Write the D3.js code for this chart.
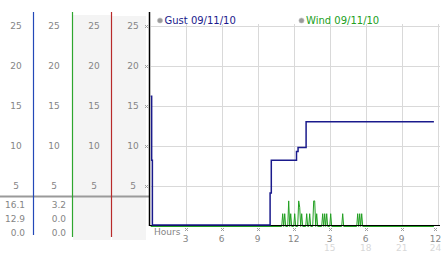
<!DOCTYPE html>
<html><head><meta charset="utf-8">
<script src="https://cdn.jsdelivr.net/npm/d3@7"></script>
<style>
html,body{margin:0;padding:0;background:#fff;}
svg{display:block;font-family:"DejaVu Sans",Verdana,sans-serif;}
</style></head>
<body><svg id="c" width="442" height="253"></svg>
<script>
// ---- data ----
const yTicks = [5, 10, 15, 20, 25];
const xTickHours = [3, 6, 9, 12, 15, 18, 21, 24];
const xTickLabels = ["3", "6", "9", "12", "3", "6", "9", "12"];
const xTickLabels2 = ["", "", "", "", "15", "18", "21", "24"];
const seriesNames = ["Gust 09/11/10", "Wind 09/11/10"];
const gustStats = ["16.1", "12.9", "0.0"];   // max, current, min
const windStats = ["3.2", "0.0", "0.0"];
// gust: [hour, value], step changes
const gust = [[0,16.1],[0.08,8.1],[0.14,0],[9.95,4.0],[10.05,8.1],[12.15,9.2],[12.28,9.7],[12.95,12.9],[23.6,12.9]];
// wind: [hour, value] samples
const wind = [[0,0],[10.917,0],[11.0,1.6],[11.083,0],[11.167,1.6],[11.25,0],[11.417,0],[11.5,3.2],[11.583,0],
 [11.667,1.6],[11.75,0],[11.917,0],[12.0,1.6],[12.083,0],[12.25,0],[12.333,3.2],[12.417,2.4],[12.5,0],
 [12.583,1.6],[12.667,0],[12.917,0],[13.0,1.6],[13.083,0],[13.167,0],[13.25,1.6],[13.333,0],[13.5,0],
 [13.583,3.2],[13.667,3.2],[13.75,0],[13.833,1.6],[13.917,0],[14.25,0],[14.333,1.6],[14.417,0],[14.5,1.6],
 [14.583,0],[14.667,1.6],[14.75,0],[14.917,0],[15.0,1.6],[15.083,0],[15.917,0],[16.0,1.6],[16.083,0],
 [17.167,0],[17.25,1.6],[17.333,0],[17.417,1.6],[17.5,0],[17.583,1.6],[17.667,0],[23.6,0]];

// ---- layout ----
const svg = d3.select("#c");
const x = d3.scaleLinear().domain([0, 24]).range([150.7, 438.7]);
const y = d3.scaleLinear().domain([0, 25]).range([226, 26]);
const numCol = "#858585";
const gustCol = "#1a1a8c", windCol = "#22a022";

// left panel backgrounds
svg.append("rect").attr("x",73).attr("y",15).attr("width",38).attr("height",225).attr("fill","#f4f4f4");
svg.append("rect").attr("x",112).attr("y",16).attr("width",34).attr("height",224).attr("fill","#f4f4f4");

// left panel separator
svg.append("line").attr("x1",0).attr("x2",150).attr("y1",196.5).attr("y2",196.5)
  .attr("stroke","#9a9a9a").attr("stroke-width",2);

// column lines
[[33,"#2348b8",235],[72,"#2ea62e",237],[111,"#b82a2a",237]].forEach(([cx,c,yb])=>{
  svg.append("line").attr("x1",cx+0.5).attr("x2",cx+0.5).attr("y1",12).attr("y2",yb)
    .attr("stroke",c).attr("stroke-width",1.2);
});

// left labels
const colX = [16, 54, 94, 133];
colX.forEach(cx=>{
  svg.append("g").selectAll("text").data(yTicks).join("text")
    .attr("x",cx).attr("y",d=>y(d)).attr("dy","0.35em").attr("text-anchor","middle")
    .attr("font-size",9).attr("fill",numCol).text(d=>d);
});
const statY = [205, 219, 232.5];
svg.append("g").selectAll("text").data(gustStats).join("text")
  .attr("x",25).attr("y",(d,i)=>statY[i]).attr("dy","0.35em").attr("text-anchor","end")
  .attr("font-size",9).attr("fill",numCol).text(d=>d);
svg.append("g").selectAll("text").data(windStats).join("text")
  .attr("x",66).attr("y",(d,i)=>statY[i]).attr("dy","0.35em").attr("text-anchor","end")
  .attr("font-size",9).attr("fill",numCol).text(d=>d);

// grid
const grid = svg.append("g").attr("stroke","#d9d9d9").attr("stroke-width",1);
grid.selectAll("line.h").data(yTicks).join("line").attr("class","h")
  .attr("x1",151).attr("x2",440).attr("y1",d=>Math.round(y(d))+0.5).attr("y2",d=>Math.round(y(d))+0.5);
grid.selectAll("line.v").data(xTickHours).join("line").attr("class","v")
  .attr("x1",d=>Math.round(x(d))-0.5).attr("x2",d=>Math.round(x(d))-0.5).attr("y1",24).attr("y2",225);

// small hatch marks
function hatch(cx, cy){
  const g = svg.append("g").attr("fill","#a0a0a0");
  [[-1,-1],[1,-1],[0,0],[-1,1],[1,1]].forEach(([dx,dy])=>{
    g.append("rect").attr("x",cx+dx).attr("y",cy+dy).attr("width",1).attr("height",1);
  });
}
yTicks.forEach(v=>hatch(146, Math.round(y(v))));
xTickHours.forEach(h=>hatch(Math.min(Math.round(x(h))-1, 435), 229));

// series
const line = d3.line().x(d=>x(d[0])).y(d=>y(d[1]));
svg.append("path").datum(wind).attr("d",line.curve(d3.curveLinear))
  .attr("fill","none").attr("stroke",windCol).attr("stroke-width",1).attr("transform","translate(0,0.5)");
// axes frame
svg.append("line").attr("x1",149.5).attr("x2",149.5).attr("y1",12).attr("y2",226).attr("stroke","#000").attr("stroke-width",1.5);
svg.append("line").attr("x1",149).attr("x2",440).attr("y1",225.5).attr("y2",225.5).attr("stroke","#000").attr("stroke-width",1.2);
svg.append("path").datum(gust).attr("d",d3.line().x(d=>x(d[0])).y(d=>y(d[1])).curve(d3.curveStepAfter))
  .attr("fill","none").attr("stroke",gustCol).attr("stroke-width",1.5).attr("transform","translate(0,-1)");

// x labels
svg.append("text").attr("x",154).attr("y",231.5).attr("dy","0.35em").attr("font-size",9)
  .attr("fill",numCol).text("Hours");
svg.append("g").selectAll("text").data(xTickHours).join("text")
  .attr("x",d=>Math.min(x(d)-1, 435.5)).attr("y",238.5).attr("dy","0.35em").attr("text-anchor","middle")
  .attr("font-size",9).attr("fill",numCol).text((d,i)=>xTickLabels[i]);
svg.append("g").selectAll("text").data(xTickHours).join("text")
  .attr("x",d=>Math.min(x(d)-1, 435.5)).attr("y",247.5).attr("dy","0.35em").attr("text-anchor","middle")
  .attr("font-size",9).attr("fill","#d8d8d8").text((d,i)=>xTickLabels2[i]);

// legend
[[160, gustCol, seriesNames[0]],[301.5, windCol, seriesNames[1]]].forEach(([lx,c,t])=>{
  svg.append("circle").attr("cx",lx).attr("cy",20.5).attr("r",2.6).attr("fill","#9a9a9a").attr("stroke","#c8c8c8").attr("stroke-width",0.6);
  svg.append("text").attr("x",lx+4.5).attr("y",20.5).attr("dy","0.35em").attr("font-size",10)
    .attr("fill",c).text(t);
});
</script></body></html>
